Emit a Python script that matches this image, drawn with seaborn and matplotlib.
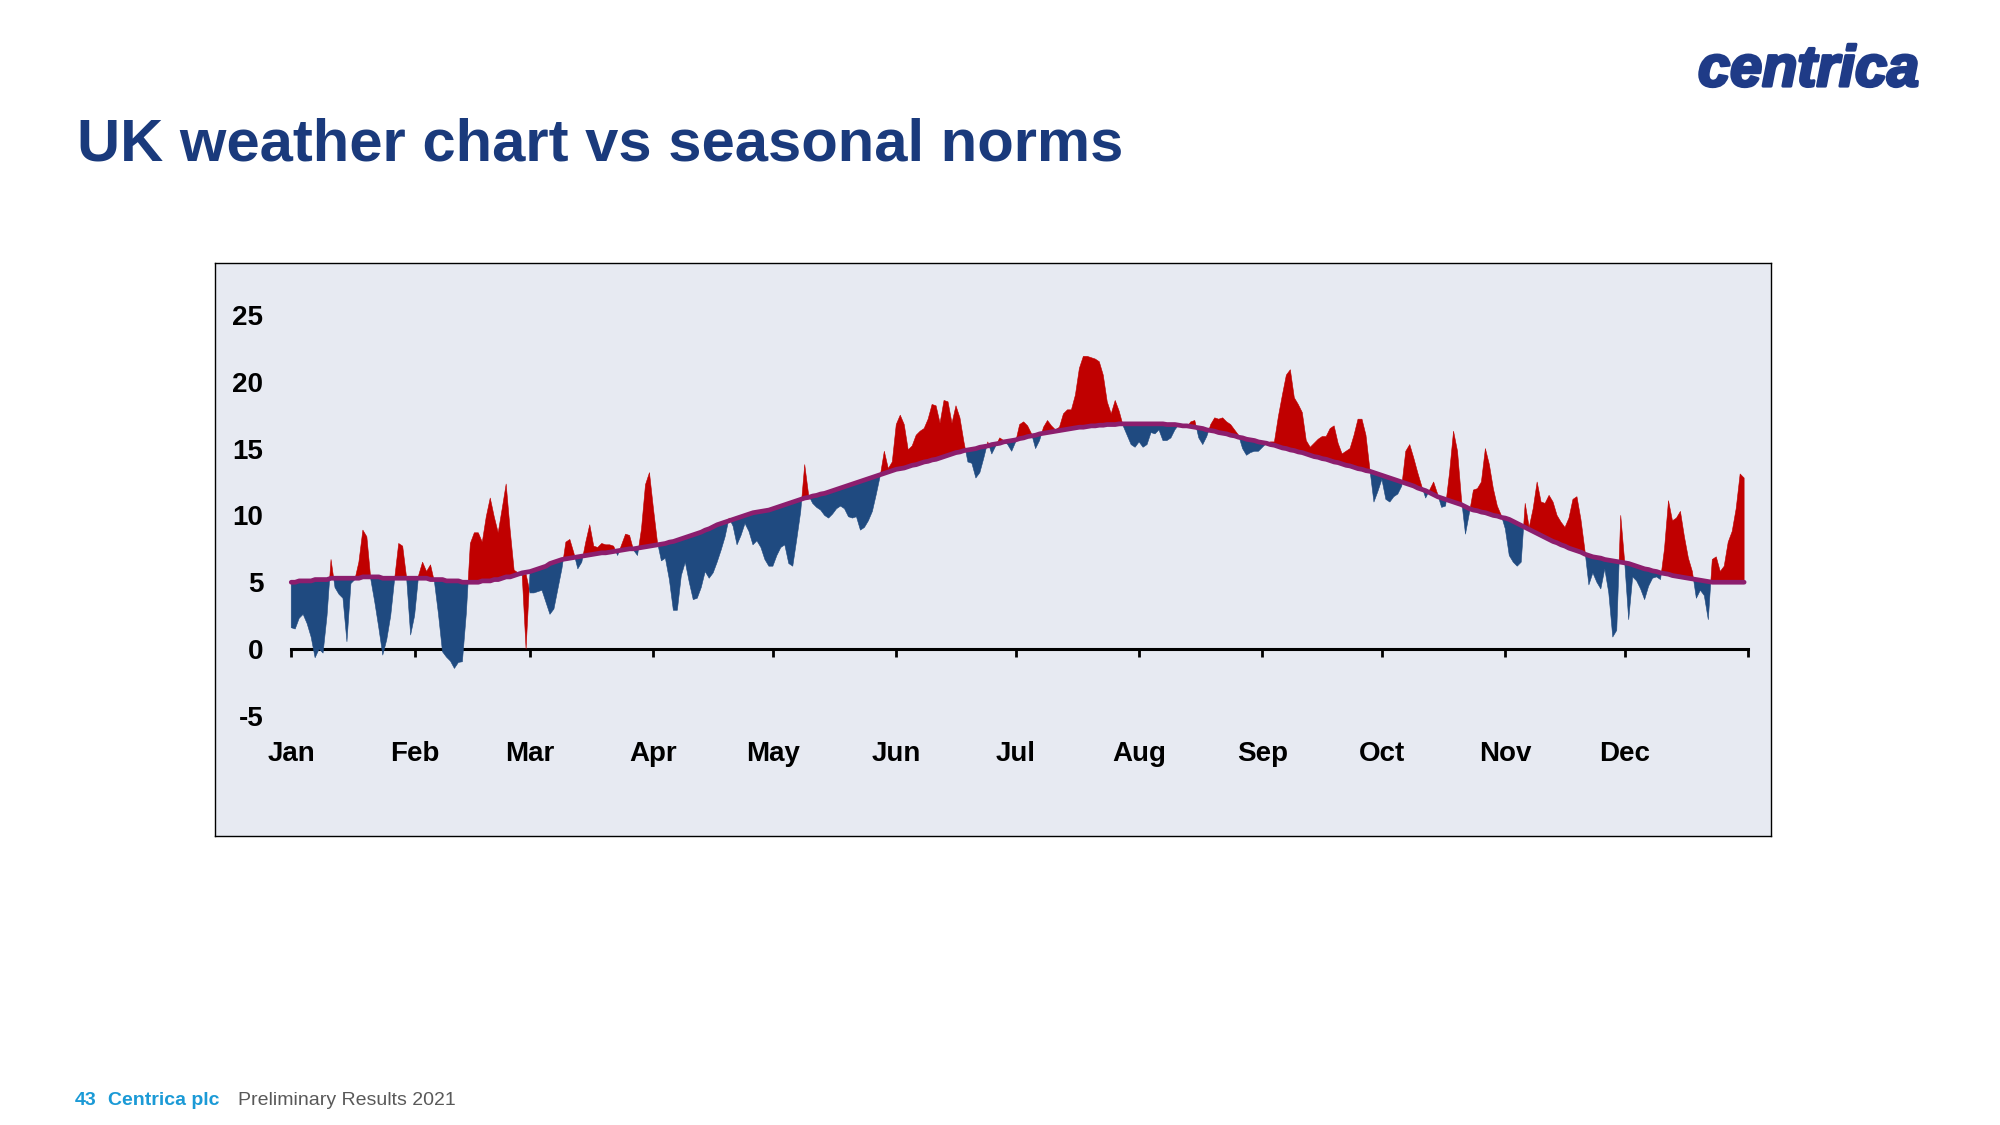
import numpy as np
import pandas as pd
import matplotlib
matplotlib.use("Agg")
import matplotlib.pyplot as plt
import matplotlib.patheffects as pe
import seaborn as sns

# daily mean temperature (C), leap-year layout (Feb 29 slot kept)
jan_temp = [1.6, 1.5, 2.3, 2.6, 1.9, 0.9, -0.65, 0.0, -0.3, 2.5, 6.7, 4.6, 4.1, 3.8, 0.55, 4.9,
            5.2, 6.5, 8.9, 8.4, 5.2, 3.5, 1.6, -0.45, 0.7, 2.5, 5.3, 7.9, 7.7, 5.3, 1.05]
feb_temp = [2.5, 5.5, 6.5, 5.8, 6.3, 5.0, 2.6, -0.2, -0.6, -0.9, -1.45, -1.0, -0.95, 2.7, 7.9,
            8.7, 8.7, 8.0, 9.9, 11.3, 9.9, 8.7, 10.5, 12.35, 8.9, 5.9, 5.7, 5.5, 5.6]
mar_temp = [4.2, 4.2, 4.3, 4.4, 3.5, 2.6, 3.0, 4.5, 6.0, 8.0, 8.2, 7.2, 6.0, 6.5, 8.0, 9.3,
            7.7, 7.6, 7.9, 7.8, 7.8, 7.7, 7.0, 7.8, 8.6, 8.5, 7.4, 7.0, 9.0, 12.3, 13.2]
apr_temp = [10.5, 8.0, 6.6, 6.8, 5.2, 2.9, 2.9, 5.5, 6.5, 5.0, 3.7, 3.8, 4.6, 5.8, 5.3,
            5.7, 6.5, 7.4, 8.4, 9.8, 9.2, 7.8, 8.5, 9.4, 8.8, 7.8, 8.1, 7.6, 6.7, 6.2]
may_temp = [6.2, 7.0, 7.6, 7.8, 6.4, 6.2, 8.2, 10.3, 13.8, 11.5, 10.9, 10.6, 10.4, 10.0, 9.8,
            10.1, 10.5, 10.7, 10.5, 9.9, 9.8, 9.9, 8.9, 9.1, 9.6, 10.3, 11.6, 13.0, 14.8, 13.5, 14.0]
jun_temp = [16.8, 17.5, 16.8, 14.9, 15.2, 16.0, 16.3, 16.5, 17.2, 18.3, 18.2, 16.9, 18.6, 18.5,
            16.9, 18.2, 17.3, 15.5, 14.0, 13.9, 12.8, 13.2, 14.3, 15.5, 14.6, 15.2, 15.8, 15.6, 15.3, 14.8]
jul_temp = [15.5, 16.8, 17.0, 16.7, 16.1, 15.0, 15.6, 16.6, 17.1, 16.7, 16.4, 16.6, 17.6, 17.9,
            17.9, 19.0, 21.0, 21.9, 21.9, 21.8, 21.7, 21.5, 20.5, 18.5, 17.6, 18.6, 17.8, 16.7,
            16.0, 15.3, 15.1]
aug_temp = [15.5, 15.1, 15.3, 16.2, 16.1, 16.4, 15.6, 15.6, 15.8, 16.4, 16.8, 16.7, 16.6, 17.0,
            17.1, 15.8, 15.3, 15.9, 16.8, 17.3, 17.2, 17.3, 17.0, 16.8, 16.4, 16.0, 15.0, 14.5,
            14.7, 14.8, 14.8]
sep_temp = [15.1, 15.4, 15.5, 15.5, 17.4, 19.0, 20.5, 20.9, 18.8, 18.3, 17.7, 15.6, 15.1, 15.4,
            15.7, 15.9, 15.9, 16.5, 16.7, 15.4, 14.6, 14.8, 15.0, 16.0, 17.2, 17.2, 16.0, 13.4, 11.0, 11.8]
oct_temp = [12.7, 11.2, 11.0, 11.4, 11.6, 12.2, 14.8, 15.3, 14.3, 13.2, 12.2, 11.3, 11.9, 12.5,
            11.6, 10.6, 10.7, 13.2, 16.3, 14.8, 11.2, 8.6, 10.2, 11.9, 12.0, 12.5, 15.0, 13.8,
            12.0, 10.7, 10.0]
nov_temp = [9.0, 7.0, 6.5, 6.2, 6.5, 10.9, 9.1, 10.5, 12.5, 11.0, 10.9, 11.5, 11.0, 10.0, 9.5,
            9.1, 9.8, 11.2, 11.4, 9.7, 7.4, 4.8, 5.7, 5.0, 4.5, 6.0, 4.2, 0.9, 1.4, 10.0]
dec_temp = [6.5, 2.2, 5.4, 5.1, 4.5, 3.7, 4.7, 5.3, 5.4, 5.2, 7.5, 11.1, 9.6, 9.8, 10.3, 8.4,
            6.8, 5.8, 3.8, 4.4, 4.0, 2.2, 6.7, 6.9, 5.8, 6.2, 8.0, 8.8, 10.5, 13.1, 12.8]

# seasonal norm (C); no value for Feb 29
jan_norm = [5.0, 5.0, 5.1, 5.1, 5.1, 5.1, 5.2, 5.2, 5.2, 5.2, 5.3, 5.3, 5.3, 5.3, 5.3, 5.3,
            5.3, 5.3, 5.4, 5.4, 5.4, 5.4, 5.4, 5.3, 5.3, 5.3, 5.3, 5.3, 5.3, 5.3, 5.3]
feb_norm = [5.3, 5.3, 5.3, 5.3, 5.2, 5.2, 5.2, 5.2, 5.1, 5.1, 5.1, 5.1, 5.0, 5.0, 5.0, 5.0,
            5.0, 5.1, 5.1, 5.1, 5.2, 5.2, 5.3, 5.4, 5.4, 5.5, 5.6, 5.7, np.nan]
mar_norm = [5.8, 5.9, 6.0, 6.1, 6.2, 6.4, 6.5, 6.6, 6.7, 6.75, 6.8, 6.85, 6.9, 6.95, 7.0, 7.05,
            7.1, 7.15, 7.2, 7.2, 7.25, 7.3, 7.35, 7.4, 7.45, 7.5, 7.5, 7.55, 7.6, 7.65, 7.7]
apr_norm = [7.75, 7.8, 7.85, 7.9, 8.0, 8.05, 8.15, 8.25, 8.35, 8.45, 8.55, 8.65, 8.75, 8.9, 9.0,
            9.15, 9.3, 9.4, 9.5, 9.6, 9.7, 9.8, 9.9, 10.0, 10.1, 10.2, 10.25, 10.3, 10.35, 10.4]
may_norm = [10.5, 10.6, 10.7, 10.8, 10.9, 11.0, 11.1, 11.2, 11.3, 11.35, 11.45, 11.5, 11.6, 11.65,
            11.75, 11.85, 11.95, 12.05, 12.15, 12.25, 12.35, 12.45, 12.55, 12.65, 12.75, 12.85,
            12.95, 13.05, 13.15, 13.25, 13.35]
jun_norm = [13.45, 13.5, 13.55, 13.65, 13.75, 13.8, 13.9, 14.0, 14.05, 14.15, 14.2, 14.3, 14.4,
            14.5, 14.6, 14.7, 14.75, 14.85, 14.9, 14.95, 15.0, 15.1, 15.15, 15.2, 15.3, 15.35,
            15.4, 15.5, 15.55, 15.6]
jul_norm = [15.65, 15.75, 15.8, 15.9, 15.95, 16.0, 16.1, 16.15, 16.2, 16.25, 16.3, 16.35, 16.4,
            16.45, 16.5, 16.55, 16.6, 16.6, 16.65, 16.7, 16.7, 16.75, 16.75, 16.8, 16.8, 16.8,
            16.85, 16.85, 16.85, 16.85, 16.85]
aug_norm = [16.85, 16.85, 16.85, 16.85, 16.85, 16.85, 16.85, 16.8, 16.8, 16.8, 16.75, 16.7, 16.7,
            16.65, 16.6, 16.55, 16.5, 16.4, 16.35, 16.3, 16.2, 16.15, 16.1, 16.0, 15.95, 15.85,
            15.8, 15.7, 15.65, 15.6, 15.5]
sep_norm = [15.45, 15.4, 15.3, 15.25, 15.15, 15.05, 15.0, 14.9, 14.85, 14.75, 14.7, 14.6, 14.5,
            14.4, 14.35, 14.25, 14.2, 14.1, 14.0, 13.95, 13.85, 13.75, 13.7, 13.6, 13.5, 13.45,
            13.35, 13.3, 13.2, 13.1]
oct_norm = [13.0, 12.9, 12.8, 12.7, 12.6, 12.5, 12.4, 12.3, 12.2, 12.05, 11.95, 11.85, 11.7, 11.55,
            11.4, 11.3, 11.2, 11.1, 11.0, 10.9, 10.8, 10.65, 10.5, 10.4, 10.35, 10.25, 10.2, 10.1,
            10.0, 9.95, 9.85]
nov_norm = [9.8, 9.7, 9.55, 9.4, 9.25, 9.1, 8.95, 8.8, 8.65, 8.5, 8.35, 8.2, 8.05, 7.95, 7.8,
            7.7, 7.55, 7.45, 7.35, 7.25, 7.1, 7.0, 6.9, 6.85, 6.8, 6.7, 6.65, 6.6, 6.55, 6.5]
dec_norm = [6.45, 6.4, 6.3, 6.2, 6.1, 6.0, 5.95, 5.85, 5.8, 5.7, 5.65, 5.6, 5.5, 5.45, 5.4, 5.35,
            5.3, 5.25, 5.2, 5.15, 5.1, 5.05, 5.0, 5.0, 5.0, 5.0, 5.0, 5.0, 5.0, 5.0, 5.0]

months = ["Jan", "Feb", "Mar", "Apr", "May", "Jun", "Jul", "Aug", "Sep", "Oct", "Nov", "Dec"]
month_start = [0, 31, 60, 91, 121, 152, 182, 213, 244, 274, 305, 335, 366]
y_ticks = [-5, 0, 5, 10, 15, 20, 25]

RED = "#C00000"
BLUE = "#1F4A80"
PURPLE = "#8C1E6E"
NAVY = "#1A3A7C"
BG = "#E7EAF2"

actual = np.array(jan_temp + feb_temp + mar_temp + apr_temp + may_temp + jun_temp
                  + jul_temp + aug_temp + sep_temp + oct_temp + nov_temp + dec_temp)
norm = np.array(jan_norm + feb_norm + mar_norm + apr_norm + may_norm + jun_norm
                + jul_norm + aug_norm + sep_norm + oct_norm + nov_norm + dec_norm, dtype=float)
df = pd.DataFrame({"day": np.arange(len(actual)), "actual": actual, "norm": norm})
# the area series treats the blank Feb 29 norm as zero (hence the thin red spike)
norm_area = df["norm"].fillna(0).to_numpy()

sns.set_style("white")
plt.rcParams["font.family"] = ["Liberation Sans", "DejaVu Sans"]
plt.rcParams["axes.unicode_minus"] = False

fig = plt.figure(figsize=(20, 11.25), dpi=100)
ax = fig.add_axes([0.1074, 0.2571, 0.7782, 0.5094])
ax.set_facecolor(BG)

ax.fill_between(df["day"], actual, norm_area, where=actual >= norm_area, interpolate=True,
                color=RED, linewidth=0.4)
ax.fill_between(df["day"], actual, norm_area, where=actual <= norm_area, interpolate=True,
                color=BLUE, linewidth=0.4)
sns.lineplot(data=df, x="day", y="norm", color=PURPLE, linewidth=3.4, ax=ax)

ax.set_xlim(-19.2, 371.8)
ax.set_ylim(-13.97, 28.91)
ax.set(xlabel="", ylabel="")
ax.set_xticks([])
ax.set_yticks(y_ticks)
ax.tick_params(axis="y", length=0, pad=-35, labelsize=20, labelcolor="black")
for lab in ax.get_yticklabels():
    lab.set_fontweight("bold")
for sp in ax.spines.values():
    sp.set_visible(True)
    sp.set_color("black")
    sp.set_linewidth(1.0)

# category axis crossing at zero
zero_axis = ax.secondary_xaxis(0, transform=ax.transData)
zero_axis.set_xticks(month_start, labels=months + [""])
zero_axis.tick_params(direction="out", length=6, width=2, pad=60, labelsize=20,
                      color="black", labelcolor="black")
zero_axis.spines["bottom"].set_linewidth(2.2)
zero_axis.spines["bottom"].set_color("black")
zero_axis.spines["bottom"].set_bounds(0, 366)
for lab in zero_axis.get_xticklabels():
    lab.set_fontweight("bold")

fig.text(0.0385, 0.8569, "UK weather chart vs seasonal norms", fontsize=43,
         fontweight="bold", color=NAVY, va="baseline")
logo = fig.text(0.849, 0.9235, "centrica", fontsize=41.5, fontweight="bold", fontstyle="italic",
                color="#1F3B87", va="baseline")
logo.set_path_effects([pe.withStroke(linewidth=2.2, foreground="#1F3B87")])

fig.text(0.0375, 0.0178, "43", fontsize=14, fontweight="bold", color="#1B9AD6", va="baseline")
fig.text(0.054, 0.0178, "Centrica plc", fontsize=14, fontweight="bold", color="#1B9AD6",
         va="baseline")
fig.text(0.119, 0.0178, "Preliminary Results 2021", fontsize=14, color="#595959",
         va="baseline")

fig.savefig("out.png", dpi=100)
